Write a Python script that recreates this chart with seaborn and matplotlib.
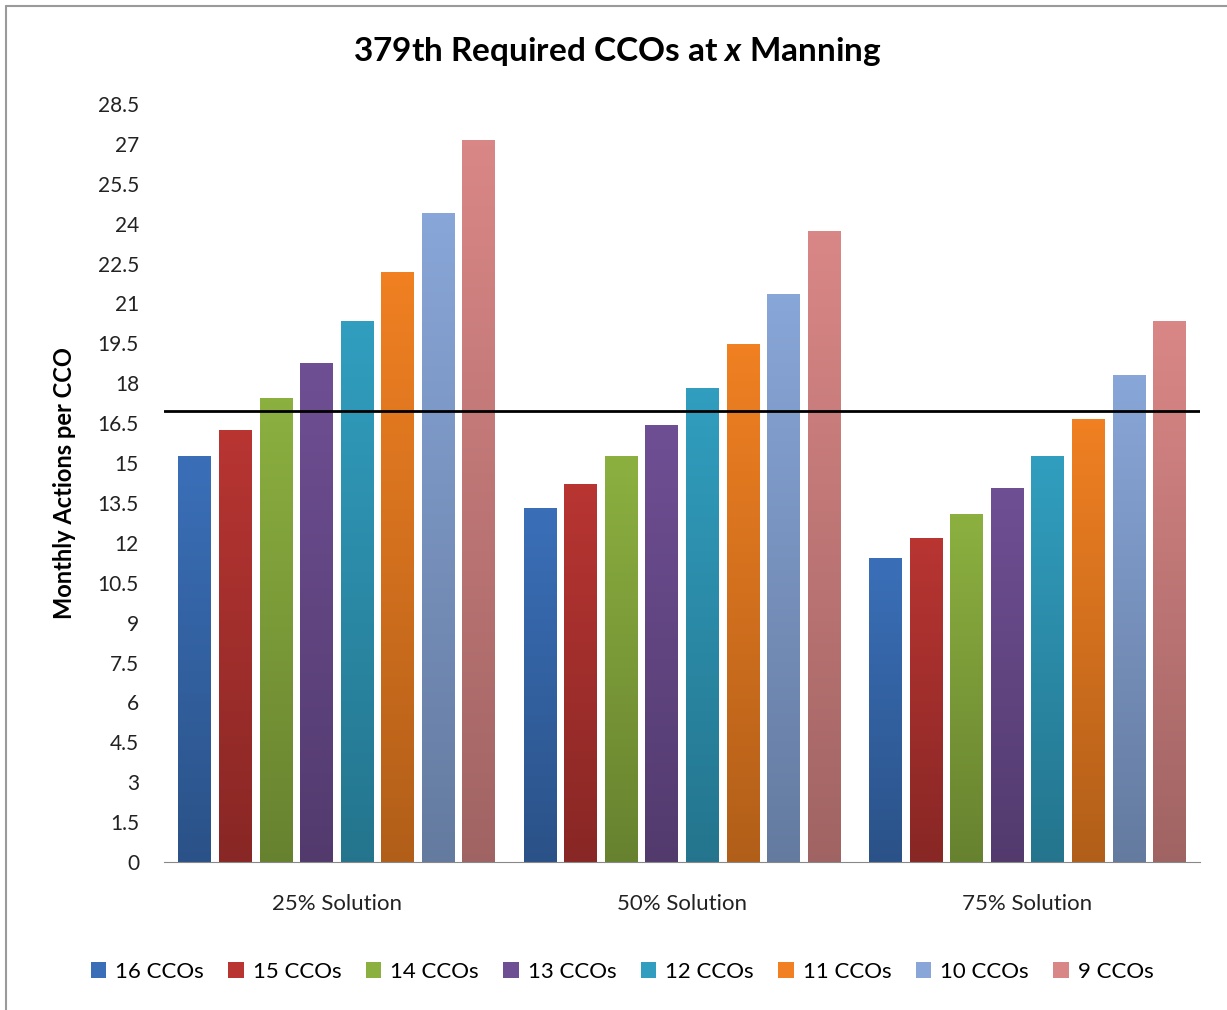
import matplotlib
matplotlib.use("Agg")
import matplotlib.pyplot as plt
import matplotlib.colors as mcolors
from matplotlib.patches import Rectangle
from matplotlib.lines import Line2D
import pandas as pd
import seaborn as sns
import numpy as np

# values
solutions = ["25% Solution", "50% Solution", "75% Solution"]
staffing = ["16 CCOs", "15 CCOs", "14 CCOs", "13 CCOs", "12 CCOs", "11 CCOs", "10 CCOs", "9 CCOs"]
sol_25 = [15.23, 16.24, 17.41, 18.76, 20.34, 22.18, 24.40, 27.14]
sol_50 = [13.31, 14.21, 15.23, 16.43, 17.82, 19.44, 21.35, 23.72]
sol_75 = [11.43, 12.18, 13.08, 14.06, 15.23, 16.65, 18.31, 20.34]
threshold = 16.95
colors = ["#3a6fb8", "#b83532", "#8cb040", "#6f4f94", "#319ebf", "#f08022", "#88a6d8", "#d98786"]

rows = []
for sol, vals in zip(solutions, [sol_25, sol_50, sol_75]):
    for st, v in zip(staffing, vals):
        rows.append({"solution": sol, "staff": st, "value": v})
df = pd.DataFrame(rows)

sns.set_style("white")
plt.rcParams["font.family"] = ["Lato", "DejaVu Sans"]
plt.rcParams["text.color"] = "black"
plt.rcParams["mathtext.fontset"] = "custom"
plt.rcParams["mathtext.it"] = "Lato:italic:bold"
plt.rcParams["mathtext.rm"] = "Lato:bold"

fig = plt.figure(figsize=(12.27, 10.10), dpi=100)
ax = fig.add_axes([164 / 1227, 1 - 862 / 1010, 1036 / 1227, 758 / 1010])

sns.barplot(data=df, x="solution", y="value", hue="staff", order=solutions,
            hue_order=staffing, palette=colors, width=0.94, gap=0.2,
            saturation=1, ax=ax, legend=True)

ax.set_xlim(-0.5, 2.5)
ax.set_ylim(0, 28.5)
xl, yl = ax.get_xlim(), ax.get_ylim()

# vertical gradient on each bar, darker toward the bottom
bars = [p for p in ax.patches if p.get_height() > 0]
for bar in bars:
    x0, w, h = bar.get_x(), bar.get_width(), bar.get_height()
    top = np.array(mcolors.to_rgb(bar.get_facecolor()))
    bot = top * 0.74
    t = np.linspace(0, 1, 64)[:, None]
    grad = (top * (1 - t) + bot * t)[:, None, :]
    ax.imshow(grad, extent=[x0, x0 + w, 0, h], aspect="auto", zorder=2,
              interpolation="bilinear")
    bar.set_facecolor("none")
    bar.set_edgecolor("none")
ax.set_xlim(xl)
ax.set_ylim(yl)

ax.axhline(threshold, color="black", lw=2, zorder=3)

ax.set_yticks(np.arange(0, 28.51, 1.5))
ax.set_yticklabels([f"{v:g}" for v in np.arange(0, 28.51, 1.5)])
ax.tick_params(axis="y", length=0, labelsize=15, pad=18, colors="#222222")
ax.tick_params(axis="x", length=0, labelsize=16, pad=23, colors="#222222")
for s in ["left", "top", "right"]:
    ax.spines[s].set_visible(False)
ax.spines["bottom"].set_color("#888888")
ax.set_xlabel("")
ax.set_ylabel("Monthly Actions per CCO", fontsize=17, fontweight="bold", labelpad=16,
              color="black")

fig.text(617 / 1227, 1 - 52 / 1010, "379th Required CCOs at $x$ Manning",
         fontsize=24, fontweight="bold", ha="center", va="center", color="black")

handles = [Rectangle((0, 0), 1, 1, facecolor=c, edgecolor="none") for c in colors]
ax.get_legend().remove()
fig.legend(handles, staffing, loc="center", bbox_to_anchor=(622 / 1227, 1 - 972 / 1010),
           ncol=8, frameon=False, fontsize=16, handlelength=0.7, handleheight=0.7,
           handletextpad=0.4, columnspacing=1.1)

# frame: only the top and left edges show in the reference
fig.lines.append(Line2D([6 / 1227, 1], [1 - 5.5 / 1010, 1 - 5.5 / 1010],
                        transform=fig.transFigure, color="#9a9a9a", lw=1.5))
fig.lines.append(Line2D([6 / 1227, 6 / 1227], [0, 1 - 5.5 / 1010],
                        transform=fig.transFigure, color="#9a9a9a", lw=1.5))

fig.savefig("out.png", dpi=100)
